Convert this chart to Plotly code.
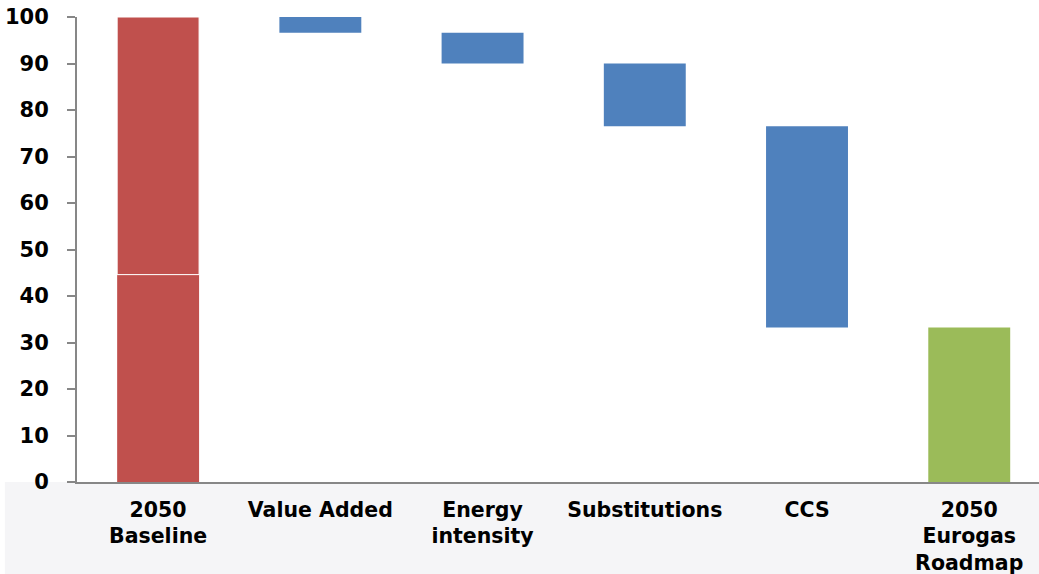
import plotly.graph_objects as go

# Waterfall of 2050 gas demand components (index, baseline = 100)
categories = ["2050<br>Baseline", "Value Added", "Energy<br>intensity",
              "Substitutions", "CCS", "2050<br>Eurogas<br>Roadmap"]
baseline_lower = 44.6
baseline_upper = 55.4
steps = [-3.4, -6.6, -13.5, -43.3]
roadmap = 33.2

# running level after each reduction step
levels = [baseline_lower + baseline_upper]
for s in steps:
    levels.append(levels[-1] + s)
step_bases = levels[1:]
step_heights = [-s for s in steps]

RED = "#C0504D"
BLUE = "#4F81BD"
GREEN = "#9BBB59"

fig = go.Figure()
fig.add_bar(x=categories[:1], y=[baseline_lower], marker_color=RED,
            marker_line_width=0, showlegend=False)
fig.add_bar(x=categories[:1], y=[baseline_upper], base=[baseline_lower],
            marker_color=RED, marker_line_color="white",
            marker_line_width=1, showlegend=False)
fig.add_bar(x=categories[1:5], y=step_heights, base=step_bases,
            marker_color=BLUE, marker_line_width=0, showlegend=False)
fig.add_bar(x=categories[5:], y=[roadmap], marker_color=GREEN,
            marker_line_width=0, showlegend=False)

# light band under the horizontal axis
fig.add_shape(type="rect", xref="paper", yref="paper", x0=-0.075, x1=1.0,
              y0=-0.25, y1=0, fillcolor="#F5F5F7", line_width=0, layer="below")

fig.update_layout(
    width=1039, height=574,
    margin=dict(l=77, r=0, t=17, b=92),
    barmode="overlay",
    bargap=0.495,
    plot_bgcolor="white", paper_bgcolor="white",
    font=dict(family="DejaVu Sans", size=20, color="black"),
)
fig.update_xaxes(
    range=[-0.5, 5.43], showgrid=False, zeroline=False, automargin=False,
    showline=True, linecolor="#878787", linewidth=2,
    ticks="", ticklabelstandoff=8,
    tickfont=dict(size=20.5, family="DejaVu Sans", weight="bold"),
)
fig.update_yaxes(
    range=[0, 100], dtick=10, showgrid=False, zeroline=False, automargin=False,
    showline=True, linecolor="#878787", linewidth=2,
    ticks="outside", ticklen=8, tickwidth=2, tickcolor="#878787",
    ticklabelstandoff=14,
    tickfont=dict(size=21, family="DejaVu Sans", weight="bold"),
)

fig.write_html("out.html")
